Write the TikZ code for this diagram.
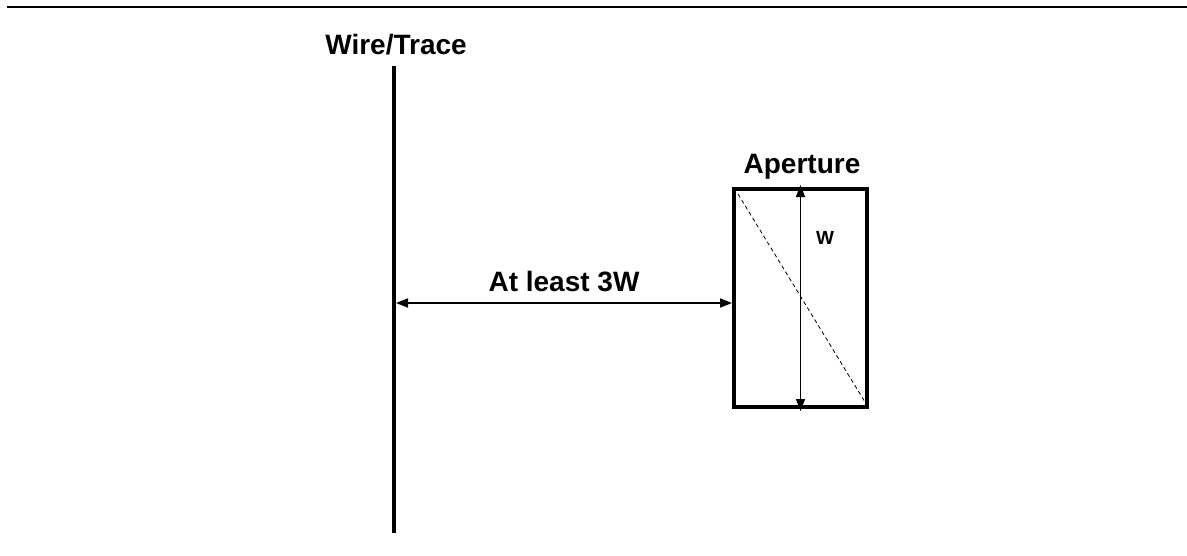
\documentclass[tikz,border=0pt]{standalone}
\usepackage{fontspec}
\setmainfont{Liberation Sans}
\usetikzlibrary{arrows.meta}
\begin{document}
\begin{tikzpicture}[x=1pt,y=-1pt,
  lbl/.style={font=\fontsize{28}{32}\selectfont\bfseries, inner sep=0pt},
  smalllbl/.style={font=\fontsize{19}{22}\selectfont\bfseries, inner sep=0pt},
  dim/.style={line width=1.5pt, {Triangle[length=12pt,width=9pt]}-{Triangle[length=12pt,width=9pt]}},
  aperture/.style={draw, line width=4pt, minimum width=133pt, minimum height=218pt, inner sep=0pt}]
\useasboundingbox (0,0) rectangle (1187,555);
% top rule
\coordinate (tl) at (7,7);
\coordinate (tr) at (1187,7);
\draw[line width=2.5pt] (tl) -- (tr);
% wire
\coordinate (wtop) at (394,66);
\coordinate (wbot) at (394,533);
\draw[line width=4pt] (wtop) -- (wbot);
\node[lbl] (wl) at (396,45) {Wire/Trace};
% aperture
\node[aperture] (ap) at (800.5,298) {};
\node[lbl] (al) at (802,167) {Aperture};
\draw[dashed, line width=0.8pt, dash pattern=on 4pt off 3pt] ([shift={(6,7)}]ap.north west) -- ([shift={(-4,-7)}]ap.south east);
\draw[dim] ([yshift=2pt]ap.north) -- ([yshift=-2pt]ap.south);
\node[smalllbl] (wlab) at (825,238) {W};
% distance
\coordinate (dl) at (396,303);
\draw[dim] (dl) -- (ap.west |- dl);
\node[lbl] (dlab) at (564,282) {At least 3W};
\end{tikzpicture}
\end{document}
